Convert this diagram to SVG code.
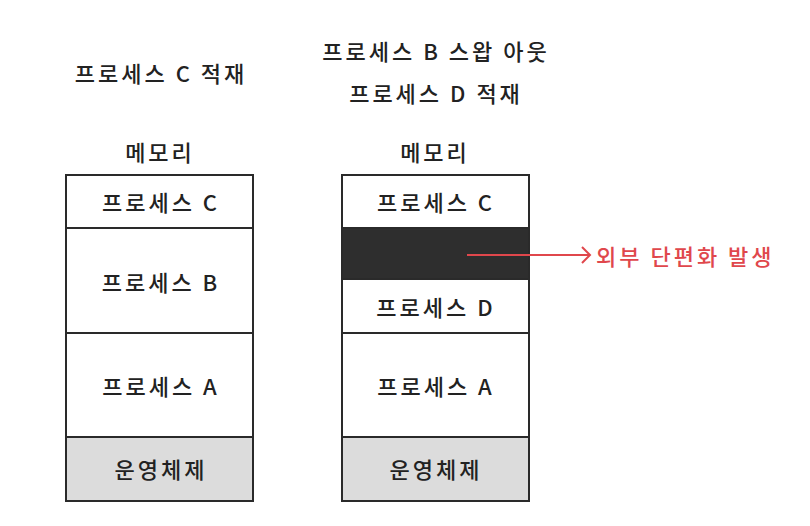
<svg xmlns="http://www.w3.org/2000/svg" width="810" height="526" viewBox="0 0 810 526">
<style>
text{font-family:"Noto Sans CJK KR","Noto Sans",sans-serif;font-size:22px;font-weight:500;fill:#222;text-anchor:middle;dominant-baseline:central;letter-spacing:3px}
.cell{fill:#fff;stroke:#2a2a2a;stroke-width:2}
.os{fill:#dcdcdc;stroke:#2a2a2a;stroke-width:2}
.frag{fill:#2e2e2e;stroke:#2a2a2a;stroke-width:2}
.red{fill:#e0474c;text-anchor:start}
.conn{stroke:#e0474c;stroke-width:2;fill:none}
</style>
<defs>
<marker id="arr" markerWidth="12" markerHeight="18" refX="10" refY="9" orient="auto" markerUnits="userSpaceOnUse">
<path d="M2,1 L10,9 L2,17" fill="none" stroke="#e0474c" stroke-width="2"/>
</marker>
</defs>
<rect width="810" height="526" fill="#fff"/>
<g id="title-left"><text x="161" y="72">프로세스 C 적재</text></g>
<g id="title-right"><text x="436" y="50">프로세스 B 스왑 아웃</text><text x="436" y="92">프로세스 D 적재</text></g>
<g id="label-left"><text x="160" y="151">메모리</text></g>
<g id="label-right"><text x="435" y="151">메모리</text></g>
<g id="left-c"><rect class="cell" x="66" y="175" width="187" height="53"/><text x="161" y="201">프로세스 C</text></g>
<g id="left-b"><rect class="cell" x="66" y="228" width="187" height="105"/><text x="161" y="281">프로세스 B</text></g>
<g id="left-a"><rect class="cell" x="66" y="333" width="187" height="104"/><text x="161" y="385">프로세스 A</text></g>
<g id="left-os"><rect class="os" x="66" y="437" width="187" height="64"/><text x="161" y="468">운영체제</text></g>
<g id="right-c"><rect class="cell" x="342" y="175" width="187" height="53"/><text x="436" y="201">프로세스 C</text></g>
<g id="right-hole"><rect class="frag" x="342" y="228" width="187" height="51"/></g>
<g id="right-d"><rect class="cell" x="342" y="279" width="187" height="54"/><text x="436" y="306">프로세스 D</text></g>
<g id="right-a"><rect class="cell" x="342" y="333" width="187" height="104"/><text x="436" y="385">프로세스 A</text></g>
<g id="right-os"><rect class="os" x="342" y="437" width="187" height="64"/><text x="436" y="468">운영체제</text></g>
<g id="connectors"><line class="conn" x1="467" y1="255" x2="590" y2="255" marker-end="url(#arr)"/></g>
<g id="note"><text class="red" x="596" y="255">외부 단편화 발생</text></g>
</svg>
